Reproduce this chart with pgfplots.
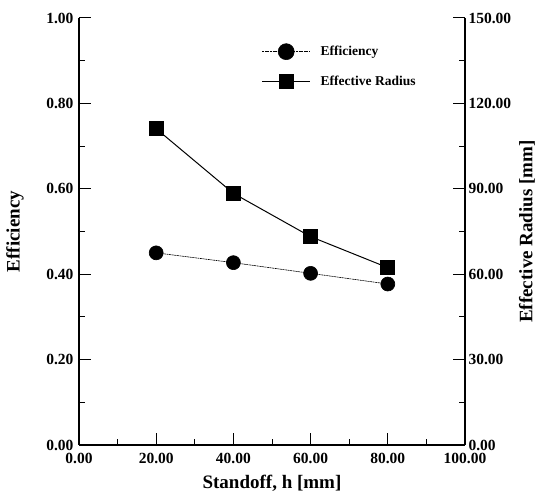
\documentclass[border=0pt]{standalone}
\usepackage{fontspec}
\setmainfont{Liberation Serif}
\usepackage{pgfplots}
\pgfplotsset{compat=1.18}
\begin{document}
\begin{tikzpicture}
\pgfplotsset{
  common/.style={
    scale only axis, width=386pt, height=427pt,
    xmin=0, xmax=100,
    tick align=inside,
    major tick length=12pt, minor tick length=6pt,
    every tick/.style={black, line width=1pt},
    axis line style={line width=1.2pt, -},
    ticklabel style={font=\fontsize{15.5}{17}\selectfont\bfseries},
    /pgf/number format/.cd, fixed, fixed zerofill, precision=2, assume math mode=true,
  },
}
\begin{axis}[common,
  ymin=0, ymax=1,
  axis x line*=bottom, axis y line*=left,
  xtick={0,20,40,60,80,100}, minor xtick={10,30,50,70,90},
  ytick={0,0.2,0.4,0.6,0.8,1.0}, minor ytick={0.1,0.3,0.5,0.7,0.9},
  xticklabel style={yshift=-5pt},
  yticklabel style={xshift=-2pt},
  xlabel={Standoff, h [mm]},
  ylabel={Efficiency},
  every axis x label/.style={at={(rel axis cs:0.5,0)}, yshift=-38pt, anchor=center, font=\fontsize{19}{21}\selectfont\bfseries},
  every axis y label/.style={at={(rel axis cs:0,0.5)}, xshift=-64pt, rotate=90, anchor=center, font=\fontsize{19}{21}\selectfont\bfseries},
]
\coordinate (ll) at (rel axis cs:0,0);
\addplot[black, line width=0.6pt, dash pattern=on 2pt off 0.6pt, mark=*, mark size=7pt, mark options={solid}]
  coordinates {(20,0.450) (40,0.427) (60,0.402) (80,0.377)};
\end{axis}
\begin{axis}[common,
  ymin=0, ymax=150,
  axis x line=none, axis y line*=right,
  yticklabel pos=right,
  yticklabel style={anchor=west, xshift=0pt},
  ytick={0,30,60,90,120,150}, minor ytick={15,45,75,105,135},
  ylabel={Effective Radius [mm]},
  every axis y label/.style={at={(rel axis cs:1,0.5)}, xshift=62pt, rotate=90, anchor=center, font=\fontsize{19}{21}\selectfont\bfseries},
  legend style={at={(rel axis cs:0.465,0.945)}, anchor=north west, draw=none, fill=none,
    font=\fontsize{13.5}{15}\selectfont\bfseries, row sep=14pt,
    nodes={inner xsep=10pt}},
  legend cell align=left,
  legend image code/.code={\draw[mark repeat=2, mark phase=2, #1] plot coordinates {(0pt,0pt) (24pt,0pt) (48pt,0pt)};},
]
\addlegendimage{black, line width=0.6pt, dash pattern=on 2pt off 0.6pt, mark=*, mark size=8pt, mark options={solid}}
\addlegendentry{Efficiency}
\addplot[black, line width=1pt, mark=square*, mark size=7pt]
  coordinates {(20,111.1) (40,88.4) (60,73.2) (80,62.3)};
\addlegendentry{Effective Radius}
\end{axis}
\pgfresetboundingbox
\path[use as bounding box] (ll) ++(-79pt,-50pt) rectangle ++(538pt,495pt);
\end{tikzpicture}
\end{document}
